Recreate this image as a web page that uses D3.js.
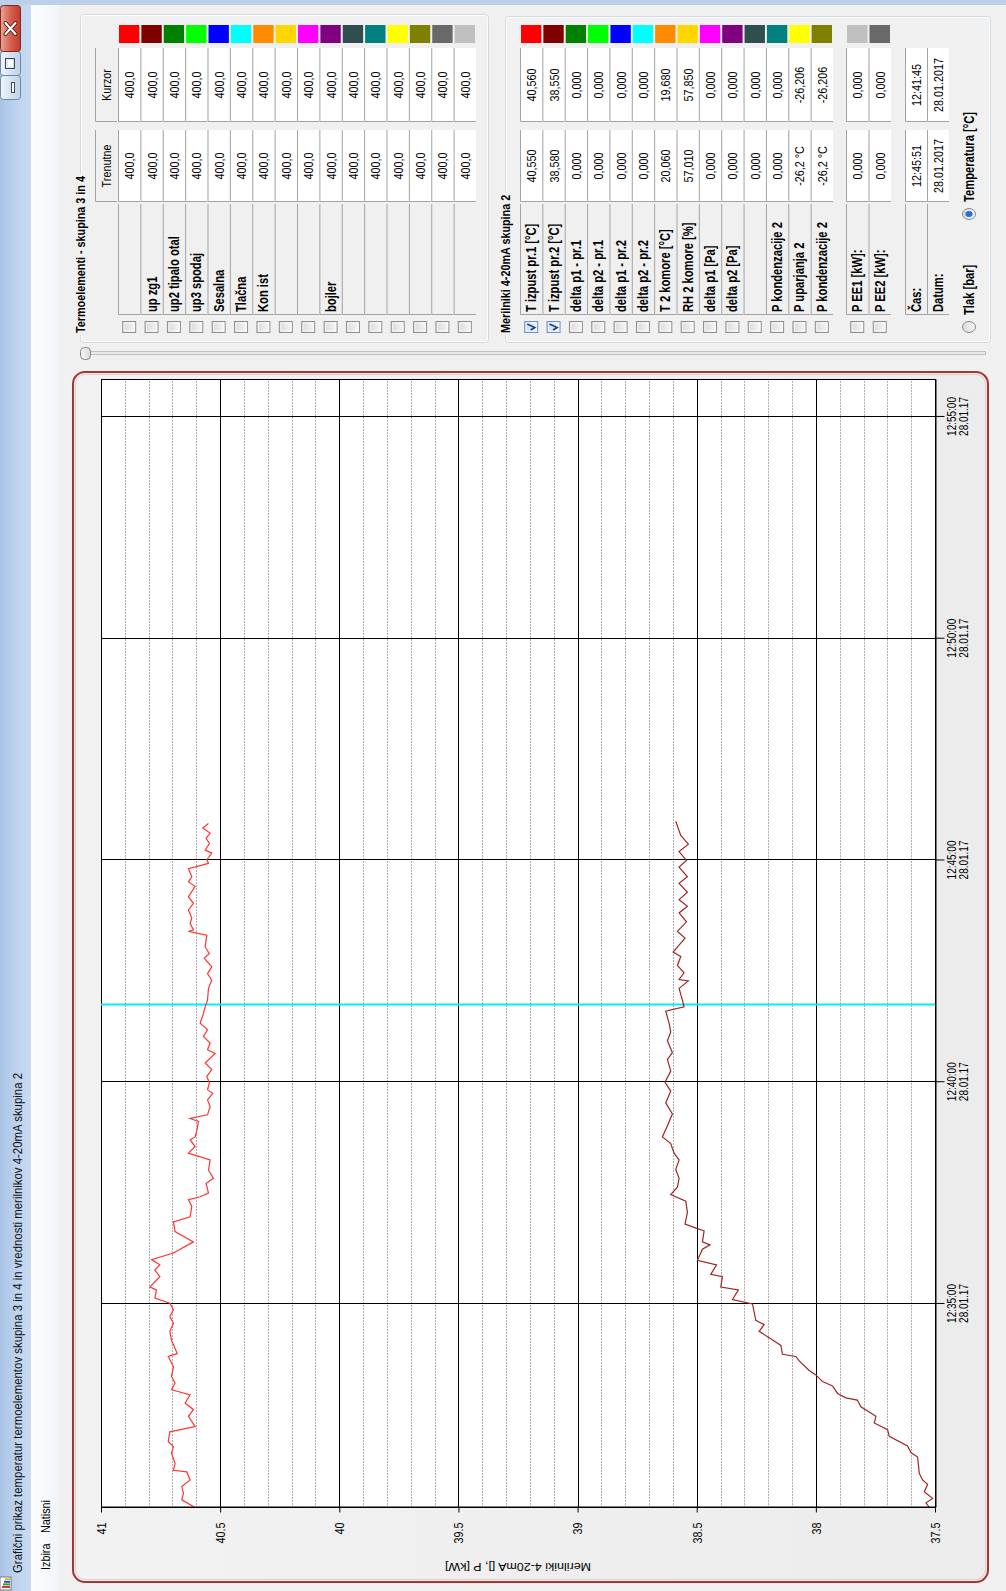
<!DOCTYPE html>
<html>
<head>
<meta charset="utf-8">
<title>Grafični prikaz</title>
<script src="https://cdn.jsdelivr.net/npm/d3@7/dist/d3.min.js"></script>
<style>
  html, body { margin: 0; padding: 0; background: #f0f0f0; overflow: hidden; }
  svg { display: block; font-family: "Liberation Sans", Arial, sans-serif; }
</style>
</head>
<body>
<div id="chart"></div>
<script>
// ---- values ----
var valueTicks = [41, 40.5, 40, 39.5, 39, 38.5, 38, 37.5];
var valueTickLabels = ["41", "40.5", "40", "39.5", "39", "38.5", "38", "37.5"];
var timeTicks = ["12:35:00", "12:40:00", "12:45:00", "12:50:00", "12:55:00"];
var dateTick = "28.01.17";
var timeDomain = ["12:30:24", "12:55:50"];
var cursorTime = "12:41:45";

// T izpust pr.1 [°C]
var t1Times = ["12:30:26","12:30:35","12:30:44","12:30:53","12:31:02","12:31:13","12:31:15","12:31:24","12:31:38","12:31:47",
  "12:31:54","12:32:07","12:32:14","12:32:28","12:32:37","12:32:46","12:32:57","12:33:04","12:33:13","12:33:22",
  "12:33:35","12:33:49","12:33:53","12:34:11","12:34:23","12:34:34","12:34:43","12:34:52","12:35:01","12:35:08",
  "12:35:19","12:35:23","12:35:37","12:35:46","12:35:53","12:36:00","12:36:09","12:36:24","12:36:38","12:36:51",
  "12:36:58","12:37:12","12:37:21","12:37:25","12:37:30","12:37:43","12:37:50","12:38:01","12:38:15","12:38:24",
  "12:38:33","12:38:42","12:38:46","12:38:55","12:39:07","12:39:11","12:39:16","12:39:27","12:39:36","12:39:45",
  "12:39:50","12:39:59","12:40:08","12:40:17","12:40:26","12:40:39","12:40:44","12:40:53","12:41:02","12:41:11",
  "12:41:20","12:41:33","12:41:42","12:41:51","12:42:07","12:42:18","12:42:27","12:42:36","12:42:48","12:42:54",
  "12:43:03","12:43:19","12:43:24","12:43:26","12:43:35","12:43:42","12:43:53","12:44:02","12:44:11","12:44:25",
  "12:44:31","12:44:38","12:44:49","12:44:53","12:44:56","12:45:01","12:45:10","12:45:14","12:45:23","12:45:30",
  "12:45:37","12:45:44","12:45:50"];
var t1Values = [40.612,40.661,40.654,40.661,40.626,40.640,40.696,40.689,40.704,40.696,
  40.718,40.711,40.605,40.633,40.612,40.647,40.626,40.704,40.689,40.704,
  40.696,40.718,40.680,40.704,40.711,40.696,40.711,40.696,40.711,40.774,
  40.767,40.795,40.753,40.774,40.753,40.788,40.696,40.612,40.689,40.696,
  40.626,40.619,40.633,40.584,40.549,40.559,40.528,40.549,40.542,40.633,
  40.605,40.626,40.605,40.598,40.591,40.626,40.553,40.542,40.553,40.531,
  40.553,40.545,40.556,40.535,40.563,40.521,40.553,40.542,40.570,40.553,
  40.584,40.570,40.563,40.553,40.549,40.535,40.553,40.535,40.567,40.545,
  40.563,40.556,40.633,40.612,40.626,40.619,40.633,40.612,40.633,40.605,
  40.633,40.619,40.633,40.584,40.549,40.556,40.535,40.563,40.545,40.559,
  40.542,40.573,40.549];

// T izpust pr.2 [°C]
var t2Times = ["12:30:25","12:30:31","12:30:37","12:30:46","12:30:56","12:31:02","12:31:11","12:31:33","12:31:39","12:31:48",
  "12:32:01","12:32:10","12:32:19","12:32:28","12:32:41","12:32:50","12:32:53","12:32:59","12:33:09","12:33:15",
  "12:33:24","12:33:30","12:33:43","12:33:49","12:33:52","12:34:04","12:34:10","12:34:23","12:34:32","12:34:38",
  "12:35:00","12:35:06","12:35:19","12:35:23","12:35:37","12:35:40","12:35:53","12:35:59","12:36:14","12:36:20",
  "12:36:24","12:36:39","12:36:42","12:36:48","12:37:04","12:37:19","12:37:28","12:37:38","12:37:50","12:38:02",
  "12:38:15","12:38:24","12:38:37","12:38:46","12:39:01","12:39:17","12:39:32","12:39:48","12:40:00","12:40:15",
  "12:40:31","12:40:40","12:40:56","12:41:08","12:41:20","12:41:36","12:41:42","12:41:51","12:42:07","12:42:17",
  "12:42:19","12:42:28","12:42:38","12:42:50","12:42:56","12:43:15","12:43:24","12:43:37","12:43:49","12:43:58",
  "12:44:07","12:44:17","12:44:29","12:44:38","12:44:51","12:45:00","12:45:12","12:45:22","12:45:34","12:45:53"];
var t2Values = [37.524,37.538,37.510,37.545,37.531,37.552,37.566,37.573,37.601,37.615,
  37.692,37.699,37.755,37.748,37.811,37.826,37.874,37.909,37.930,37.972,
  38.000,38.028,38.070,38.084,38.140,38.147,38.175,38.238,38.217,38.252,
  38.266,38.350,38.325,38.399,38.392,38.441,38.417,38.497,38.476,38.444,
  38.476,38.469,38.497,38.549,38.539,38.546,38.609,38.581,38.574,38.588,
  38.574,38.595,38.609,38.644,38.623,38.602,38.630,38.609,38.633,38.609,
  38.623,38.602,38.623,38.609,38.616,38.630,38.553,38.560,38.574,38.535,
  38.574,38.553,38.581,38.567,38.599,38.549,38.581,38.543,38.574,38.539,
  38.574,38.539,38.574,38.539,38.574,38.543,38.574,38.535,38.567,38.588];

// side panel: Termoelementi - skupina 3 in 4
var p1Names = ["", "up zg1", "up2 tipalo otal", "up3 spodaj", "Sesalna", "Tlačna", "Kon ist", "", "", "bojler", "", "", "", "", "", ""];
var p1Current = ["400,0","400,0","400,0","400,0","400,0","400,0","400,0","400,0","400,0","400,0","400,0","400,0","400,0","400,0","400,0","400,0"];
var p1Cursor = ["400,0","400,0","400,0","400,0","400,0","400,0","400,0","400,0","400,0","400,0","400,0","400,0","400,0","400,0","400,0","400,0"];
var p1Colors = ["#ff0000","#800000","#008000","#00ff00","#0000ff","#00ffff","#ff8c00","#ffd700","#ff00ff","#800080","#2f4f4f","#008080","#ffff00","#808000","#696969","#c0c0c0"];

// side panel: Merilniki 4-20mA skupina 2
var p2Names = ["T izpust pr.1 [°C]","T izpust pr.2 [°C]","delta p1 - pr.1","delta p2 - pr.1","delta p1 - pr.2","delta p2 - pr.2","T 2 komore [°C]","RH 2 komore [%]","delta p1 [Pa]","delta p2 [Pa]","","P kondenzacije 2","P uparjanja 2","P kondenzacije 2"];
var p2Current = ["40,550","38,580","0,000","0,000","0,000","0,000","20,060","57,010","0,000","0,000","0,000","0,000","-26,2 °C","-26,2 °C"];
var p2Cursor = ["40,560","38,550","0,000","0,000","0,000","0,000","19,680","57,850","0,000","0,000","0,000","0,000","-26,206","-26,206"];
var p2Colors = ["#ff0000","#800000","#008000","#00ff00","#0000ff","#00ffff","#ff8c00","#ffd700","#ff00ff","#800080","#2f4f4f","#008080","#ffff00","#808000"];
var p2Checked = [true, true, false, false, false, false, false, false, false, false, false, false, false, false];

var powerNames = ["P EE1 [kW]:", "P EE2 [kW]:"];
var powerCurrent = ["0,000", "0,000"];
var powerCursor = ["0,000", "0,000"];
var powerColors = ["#c0c0c0", "#696969"];

var clockNames = ["Čas:", "Datum:"];
var clockCurrent = ["12:45:51", "28.01.2017"];
var clockCursor = ["12:41:45", "28.01.2017"];

var windowTitle = "Grafični prikaz temperatur termoelementov skupina 3 in 4 in vrednosti merilnikov 4-20mA skupina 2";
var menuItems = ["Izbira", "Natisni"];
var yTitle = "Merilniki 4-20mA [], P [kW]";

// ---- drawing ----
var parseTime = d3.timeParse("%H:%M:%S");

// the picture is a landscape window turned on its side:
// draw in landscape coords, then rotate the whole group
var W = 1591, H = 1006;
var K = 0.8; // the capture squeezed everything along landscape x

var svg = d3.select("#chart").append("svg").attr("width", H).attr("height", W);
var defs = svg.append("defs");
var scr = svg.append("g").attr("transform", `translate(0,${W}) rotate(-90)`);

function grad(id, colors) {
  var g = defs.append("linearGradient").attr("id", id)
    .attr("x1", 0).attr("y1", 0).attr("x2", 0).attr("y2", 1);
  colors.forEach(function (c, i) {
    g.append("stop").attr("offset", i / (colors.length - 1)).attr("stop-color", c);
  });
}
grad("titleGrad", ["#a9c3e5", "#bcd2ee", "#cadcf1"]);
grad("menuGrad", ["#fbfcfe", "#f1f4f9"]);
grad("btnGrad", ["#f1f5fb", "#d6e2f1", "#bfd1e8"]);
grad("closeGrad", ["#eaa797", "#d6604f", "#c23b2b"]);
grad("chkGrad", ["#d9d9d9", "#f7f7f7"]);
grad("chkOnGrad", ["#c9dcf3", "#eef4fb"]);
grad("thumbGrad", ["#f7f7f7", "#dadada"]);
grad("frameGrad", ["#f2f2f2", "#ececec"]);

scr.append("rect").attr("width", W).attr("height", H).attr("fill", "#f0f0f0");

// title bar + menu
scr.append("rect").attr("width", W).attr("height", 31).attr("fill", "url(#titleGrad)");
scr.append("rect").attr("y", 31).attr("width", W).attr("height", 2).attr("fill", "#ffffff");
scr.append("rect").attr("y", 33).attr("width", W).attr("height", 26).attr("fill", "url(#menuGrad)");
scr.append("rect").attr("x", W - 5).attr("width", 5).attr("height", H).attr("fill", "#bcd0ea");

var icon = scr.append("g");
icon.append("rect").attr("x", 1).attr("y", 0).attr("width", 13).attr("height", 11).attr("fill", "#ffffff").attr("stroke", "#7a7a7a");
["#e03030", "#30a030", "#3050d0", "#e0c020"].forEach(function (c, i) {
  icon.append("rect").attr("x", 3 + i * 2.6).attr("y", 2 + i).attr("width", 2).attr("height", 8 - i).attr("fill", c);
});

scr.append("text").attr("x", 18).attr("y", 22).attr("font-size", 12.5).attr("fill", "#111")
  .attr("textLength", 500).attr("lengthAdjust", "spacingAndGlyphs").text(windowTitle);

scr.append("text").attr("class", "sq").attr("x", 21).attr("y", 50).attr("font-size", 13.5).text(menuItems[0]);
scr.append("text").attr("class", "sq").attr("x", 58).attr("y", 50).attr("font-size", 13.5).text(menuItems[1]);

// window buttons
var btn = scr.append("g");
btn.append("rect").attr("x", 1491.5).attr("y", 0.5).attr("width", 24).attr("height", 20).attr("rx", 3)
  .attr("fill", "url(#btnGrad)").attr("stroke", "#6f87a8");
btn.append("rect").attr("x", 1515.5).attr("y", 0.5).attr("width", 24).attr("height", 20).attr("rx", 3)
  .attr("fill", "url(#btnGrad)").attr("stroke", "#6f87a8");
btn.append("rect").attr("x", 1539.5).attr("y", 0.5).attr("width", 46).attr("height", 20).attr("rx", 3)
  .attr("fill", "url(#closeGrad)").attr("stroke", "#7d2a20");
btn.append("rect").attr("x", 1498.5).attr("y", 11.5).attr("width", 10).attr("height", 3)
  .attr("fill", "#ffffff").attr("stroke", "#3a4a60");
btn.append("rect").attr("x", 1522.5).attr("y", 5.5).attr("width", 10).attr("height", 9)
  .attr("fill", "none").attr("stroke", "#3a4a60").attr("stroke-width", 1);
btn.append("rect").attr("x", 1524).attr("y", 8).attr("width", 7).attr("height", 5).attr("fill", "#ffffff");
btn.append("path").attr("d", "M1557,5.5L1568,15.5M1568,5.5L1557,15.5")
  .attr("stroke", "#4a1510").attr("stroke-width", 4).attr("stroke-linecap", "round");
btn.append("path").attr("d", "M1557,5.5L1568,15.5M1568,5.5L1557,15.5")
  .attr("stroke", "#ffffff").attr("stroke-width", 2.2).attr("stroke-linecap", "round");

// chart frame
var plot = { left: 83, right: 1211, top: 101, bottom: 935 };
scr.append("rect").attr("x", 9).attr("y", 73).attr("width", 1210).attr("height", 915).attr("rx", 12)
  .attr("fill", "url(#frameGrad)").attr("stroke", "#a83434").attr("stroke-width", 2);
scr.append("rect").attr("x", 11.5).attr("y", 75.5).attr("width", 1205).attr("height", 910).attr("rx", 10)
  .attr("fill", "none").attr("stroke", "#e6cccc").attr("stroke-width", 1);

var chart = scr.append("g");
chart.append("rect").attr("x", plot.left).attr("y", plot.top)
  .attr("width", plot.right - plot.left).attr("height", plot.bottom - plot.top).attr("fill", "#ffffff");

var x = d3.scaleTime().domain(timeDomain.map(parseTime)).range([plot.left, plot.right]);
var y = d3.scaleLinear().domain([37.5, 41]).range([plot.bottom, plot.top]);
var px = function (v) { return Math.round(v) + 0.5; };

// minor value grid, every 0.1
var minor = y.ticks(35).filter(function (v) { return Math.abs(v * 2 - Math.round(v * 2)) > 0.01; });
chart.append("g").selectAll("line").data(minor).join("line")
  .attr("x1", plot.left).attr("x2", plot.right)
  .attr("y1", function (d) { return px(y(d)); }).attr("y2", function (d) { return px(y(d)); })
  .attr("stroke", "#acacac").attr("stroke-dasharray", "2,1");

// major grid
chart.append("g").selectAll("line").data(valueTicks).join("line")
  .attr("x1", plot.left).attr("x2", plot.right)
  .attr("y1", function (d) { return px(y(d)); }).attr("y2", function (d) { return px(y(d)); })
  .attr("stroke", "#000");
chart.append("g").selectAll("line").data(timeTicks.map(parseTime)).join("line")
  .attr("x1", function (d) { return px(x(d)); }).attr("x2", function (d) { return px(x(d)); })
  .attr("y1", plot.top).attr("y2", plot.bottom)
  .attr("stroke", "#000");

chart.append("rect").attr("x", plot.left + 0.5).attr("y", plot.top + 0.5)
  .attr("width", plot.right - plot.left).attr("height", plot.bottom - plot.top)
  .attr("fill", "none").attr("stroke", "#000");

// cursor
var cx = x(parseTime(cursorTime));
chart.append("line").attr("x1", cx).attr("x2", cx).attr("y1", plot.top).attr("y2", plot.bottom)
  .attr("stroke", "#00eef8").attr("stroke-width", 2);

// series
var line = d3.line()
  .x(function (d) { return x(d.t); })
  .y(function (d) { return y(d.v); });
var s1 = t1Times.map(function (t, i) { return { t: parseTime(t), v: t1Values[i] }; });
var s2 = t2Times.map(function (t, i) { return { t: parseTime(t), v: t2Values[i] }; });
chart.append("path").datum(s1).attr("d", line).attr("fill", "none")
  .attr("stroke", "#ff3434").attr("stroke-width", 1.2);
chart.append("path").datum(s2).attr("d", line).attr("fill", "none")
  .attr("stroke", "#a32424").attr("stroke-width", 1.2);

// axes
var yAxis = d3.axisLeft(y).tickValues(valueTicks)
  .tickFormat(function (d, i) { return valueTickLabels[i]; })
  .tickSize(5).tickSizeOuter(0).tickPadding(10);
var gy = chart.append("g").attr("transform", `translate(${plot.left + 0.5},0)`).call(yAxis);
gy.attr("font-family", null).attr("font-size", 13.5);
gy.selectAll("text").attr("class", "sq").attr("fill", "#000");

var xAxis = d3.axisBottom(x).tickValues(timeTicks.map(parseTime))
  .tickFormat(d3.timeFormat("%H:%M:%S"))
  .tickSize(9).tickSizeOuter(0);
var gx = chart.append("g").attr("transform", `translate(0,${plot.bottom + 0.5})`).call(xAxis);
gx.attr("font-family", null).attr("font-size", 12.5);
gx.selectAll(".tick text").each(function () {
  var t = d3.select(this), s = t.text();
  t.text(null).attr("y", null).attr("dy", null).attr("class", "sq").attr("fill", "#000");
  t.append("tspan").attr("x", 0).attr("y", 21).text(s);
  t.append("tspan").attr("x", 0).attr("y", 33).text(dateTick);
});

chart.append("text")
  .attr("transform", `translate(28,${(plot.top + plot.bottom) / 2}) rotate(-90) scale(1,${K})`)
  .attr("text-anchor", "middle").attr("font-size", 12.5).text(yTitle);

// ---- side panels ----
var col = { chk: 1258, name0: 1276, name1: 1387, cur0: 1389, cur1: 1461, kur0: 1469, kur1: 1543, sw0: 1548, sw1: 1566 };

function groupBox(x0, x1, y0, y1, title) {
  var gb = scr.append("g");
  gb.append("rect").attr("x", x0 + 0.5).attr("y", y0 + 0.5).attr("width", x1 - x0).attr("height", y1 - y0)
    .attr("rx", 3).attr("fill", "none").attr("stroke", "#d2dbe2");
  gb.append("rect").attr("x", x0 + 1.5).attr("y", y0 + 1.5).attr("width", x1 - x0 - 2).attr("height", y1 - y0 - 2)
    .attr("rx", 2).attr("fill", "none").attr("stroke", "#fbfcfd");
  var t = gb.append("text").attr("class", "sq").attr("x", x0 + 10).attr("y", y0 + 5)
    .attr("font-size", 13.5).attr("font-weight", "bold").text(title);
  var len = t.node().getComputedTextLength() * K;
  gb.insert("rect", "text").attr("x", x0 + 8).attr("y", y0 - 8).attr("width", len + 4).attr("height", 14)
    .attr("fill", "#f0f0f0");
}

function cell(g, x0, x1, y0, y1, fill) {
  g.append("rect").attr("x", x0).attr("y", y0).attr("width", x1 - x0).attr("height", y1 - y0).attr("fill", fill);
  g.append("path").attr("d", `M${x0 + 0.5},${y1}V${y0 + 0.5}H${x1}`)
    .attr("fill", "none").attr("stroke", "#a3a3a3");
}

function checkBox(g, xl, yc, on) {
  g.append("rect").attr("x", xl + 0.5).attr("y", yc - 6.5).attr("width", 11).attr("height", 13)
    .attr("fill", on ? "url(#chkOnGrad)" : "url(#chkGrad)").attr("stroke", on ? "#6f8fbf" : "#8f8f8f");
  g.append("rect").attr("x", xl + 2).attr("y", yc - 5).attr("width", 8).attr("height", 10)
    .attr("fill", "none").attr("stroke", "#ffffff").attr("stroke-opacity", 0.7);
  if (on) {
    g.append("path").attr("d", `M${xl + 3},${yc - 0.5}L${xl + 5.5},${yc + 3.5}L${xl + 9},${yc - 4}`)
      .attr("fill", "none").attr("stroke", "#22409a").attr("stroke-width", 1.8);
  }
}

function table(rows, band) {
  var h = band.bandwidth();
  var g = scr.append("g");
  g.selectAll("g").data(rows).join("g")
    .attr("transform", function (d, i) { return `translate(0,${band(i)})`; })
    .each(function (d) {
      var r = d3.select(this);
      if (d.checked != null) checkBox(r, col.chk, h / 2, d.checked);
      cell(r, col.name0, col.name1, 0, h, "#f0f0f0");
      cell(r, col.cur0, col.cur1, 0, h, "#ffffff");
      cell(r, col.kur0, col.kur1, 0, h, "#ffffff");
      if (d.color) {
        r.append("rect").attr("x", col.sw0).attr("y", 1).attr("width", col.sw1 - col.sw0).attr("height", h - 2)
          .attr("fill", d.color);
      }
      r.append("text").attr("class", "sq").attr("x", col.name0 + 3).attr("y", h / 2 + 5)
        .attr("font-size", 14).attr("font-weight", "bold").text(d.name);
      r.append("text").attr("class", "sq").attr("x", (col.cur0 + col.cur1) / 2).attr("y", h / 2 + 5)
        .attr("text-anchor", "middle").attr("font-size", 13.5).text(d.cur);
      r.append("text").attr("class", "sq").attr("x", (col.kur0 + col.kur1) / 2).attr("y", h / 2 + 5)
        .attr("text-anchor", "middle").attr("font-size", 13.5).text(d.kur);
    });
}

function rowsOf(names, cur, kur, colors, checked) {
  return names.map(function (n, i) {
    return { name: n, cur: cur[i], kur: kur[i], color: colors ? colors[i] : null, checked: checked ? checked[i] : null };
  });
}

// Termoelementi
groupBox(1248, 1576, 80, 488, "Termoelementi - skupina 3 in 4");
var hdr = scr.append("g");
cell(hdr, col.cur0, col.cur1, 95, 117, "#f0f0f0");
cell(hdr, col.kur0, col.kur1, 95, 117, "#f0f0f0");
hdr.append("text").attr("class", "sq").attr("x", (col.cur0 + col.cur1) / 2).attr("y", 111)
  .attr("text-anchor", "middle").attr("font-size", 13.5).text("Trenutne");
hdr.append("text").attr("class", "sq").attr("x", (col.kur0 + col.kur1) / 2).attr("y", 111)
  .attr("text-anchor", "middle").attr("font-size", 13.5).text("Kurzor");
var p1Band = d3.scaleBand().domain(d3.range(p1Names.length)).range([118, 476]);
table(rowsOf(p1Names, p1Current, p1Cursor, p1Colors, p1Names.map(function () { return false; })), p1Band);

// Merilniki
groupBox(1248, 1574, 505, 990, "Merilniki 4-20mA skupina 2");
var p2Band = d3.scaleBand().domain(d3.range(p2Names.length)).range([520, 833]);
table(rowsOf(p2Names, p2Current, p2Cursor, p2Colors, p2Checked), p2Band);
var pwBand = d3.scaleBand().domain(d3.range(powerNames.length)).range([846, 891]);
table(rowsOf(powerNames, powerCurrent, powerCursor, powerColors, [false, false]), pwBand);
var clBand = d3.scaleBand().domain(d3.range(clockNames.length)).range([905, 949]);
table(rowsOf(clockNames, clockCurrent, clockCursor, null, null), clBand);

// unit radio buttons
function radio(xl, yc, on, label, lx) {
  scr.append("ellipse").attr("cx", xl + 6).attr("cy", yc).attr("rx", 5.5).attr("ry", 6.5)
    .attr("fill", "url(#chkGrad)").attr("stroke", "#8a8a8a");
  if (on) {
    scr.append("ellipse").attr("cx", xl + 6).attr("cy", yc).attr("rx", 3).attr("ry", 3.6).attr("fill", "#2b6fd0");
  }
  scr.append("text").attr("class", "sq").attr("x", lx).attr("y", yc + 5)
    .attr("font-size", 14).attr("font-weight", "bold").text(label);
}
radio(1258, 969, false, "Tlak [bar]", 1276);
radio(1371, 969, true, "Temperatura [°C]", 1389);

// time slider
scr.append("rect").attr("x", 1236.5).attr("y", 82.5).attr("width", 3).attr("height", 903)
  .attr("fill", "#e7eaea").attr("stroke", "#b5b5b5").attr("stroke-width", 0.8);
scr.append("rect").attr("x", 1231.5).attr("y", 80.5).attr("width", 12).attr("height", 10).attr("rx", 4)
  .attr("fill", "url(#thumbGrad)").attr("stroke", "#858585");

// narrow the text the way the capture did
scr.selectAll("text.sq").each(function () {
  var t = d3.select(this), x0 = +t.attr("x") || 0, tr = t.attr("transform") || "";
  t.attr("transform", `${tr} translate(${x0},0) scale(${K},1) translate(${-x0},0)`);
});
</script>
</body>
</html>
